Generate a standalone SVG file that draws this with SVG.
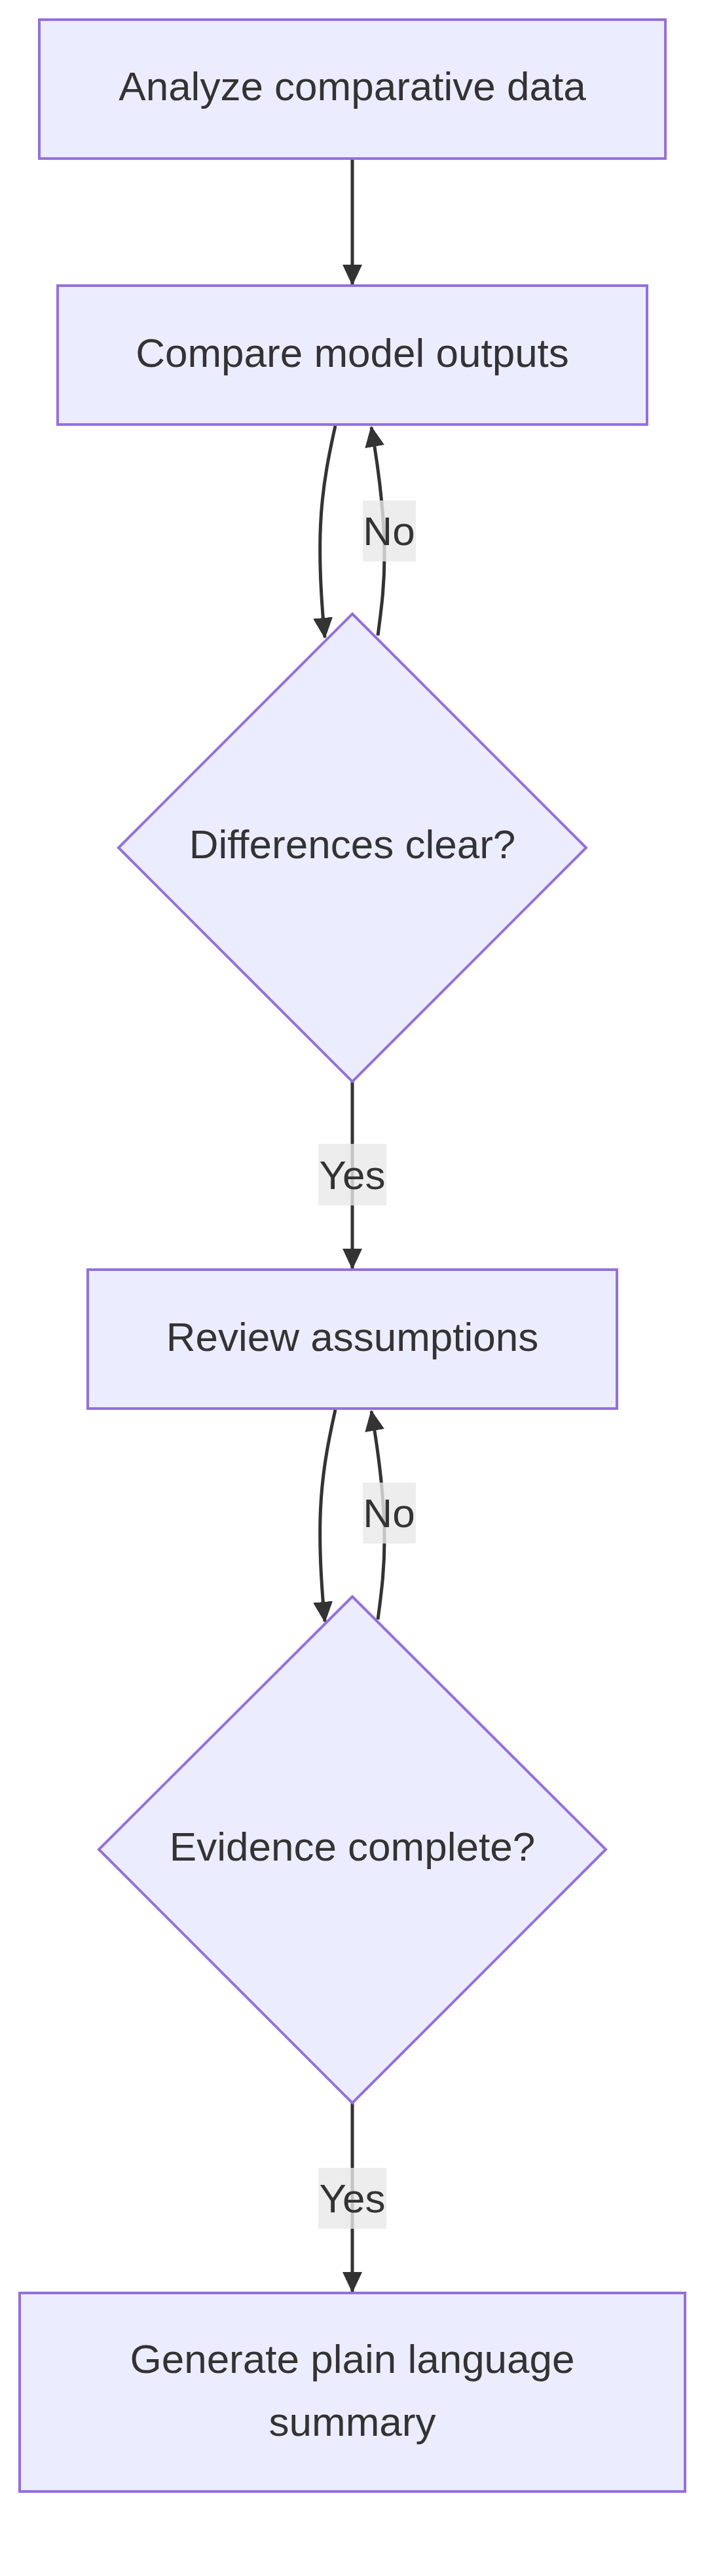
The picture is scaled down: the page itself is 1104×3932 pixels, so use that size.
<svg xmlns="http://www.w3.org/2000/svg" width="1104" height="3932" viewBox="0 0 1104 3932">
<style>
.n{fill:#ececff;stroke:#9370db;stroke-width:4}
.t{font-family:"Liberation Sans",Arial,sans-serif;font-size:62px;fill:#333;text-anchor:middle;dominant-baseline:central}
.e{fill:none;stroke:#333;stroke-width:5}
.lb{fill:#e8e8e8;opacity:0.8}
</style>
<defs>
<marker id="a" markerUnits="userSpaceOnUse" markerWidth="32" markerHeight="30" refX="30" refY="15" orient="auto"><path d="M0,0 L32,15 L0,30 z" fill="#333"/></marker>
</defs>
<g id="edges">
<path class="e" d="M538,242 L538,434" marker-end="url(#a)"/>
<path class="e" d="M512,650 C492,740 480,810 496,973" marker-end="url(#a)"/>
<path class="e" d="M577,970 C586,900 598,830 567,652" marker-end="url(#a)"/>
<path class="e" d="M538,1651 L538,1936" marker-end="url(#a)"/>
<path class="e" d="M512,2152 C492,2242 480,2312 496,2475" marker-end="url(#a)"/>
<path class="e" d="M577,2472 C586,2402 598,2332 567,2154" marker-end="url(#a)"/>
<path class="e" d="M538,3210 L538,3498" marker-end="url(#a)"/>
</g>
<g id="labels">
<rect class="lb" x="554" y="764" width="81" height="93"/><text class="t" x="594" y="810">No</text>
<rect class="lb" x="486" y="1746" width="104" height="94"/><text class="t" x="538" y="1793">Yes</text>
<rect class="lb" x="554" y="2263" width="81" height="93"/><text class="t" x="594" y="2309">No</text>
<rect class="lb" x="486" y="3309" width="104" height="93"/><text class="t" x="538" y="3355">Yes</text>
</g>
<g id="n1"><rect class="n" x="60" y="30" width="956" height="212"/><text class="t" x="538" y="131">Analyze comparative data</text></g>
<g id="n2"><rect class="n" x="88" y="436" width="900" height="212"/><text class="t" x="538" y="538">Compare model outputs</text></g>
<g id="n3"><polygon class="n" points="538,937 895,1294 538,1651 181,1294"/><text class="t" x="538" y="1288">Differences clear?</text></g>
<g id="n4"><rect class="n" x="134" y="1938" width="808" height="212"/><text class="t" x="538" y="2040">Review assumptions</text></g>
<g id="n5"><polygon class="n" points="538,2437 925,2823 538,3210 151,2823"/><text class="t" x="538" y="2818">Evidence complete?</text></g>
<g id="n6"><rect class="n" x="30" y="3500" width="1016" height="303"/><text class="t" x="538" y="3600">Generate plain language</text><text class="t" x="538" y="3696">summary</text></g>
</svg>
